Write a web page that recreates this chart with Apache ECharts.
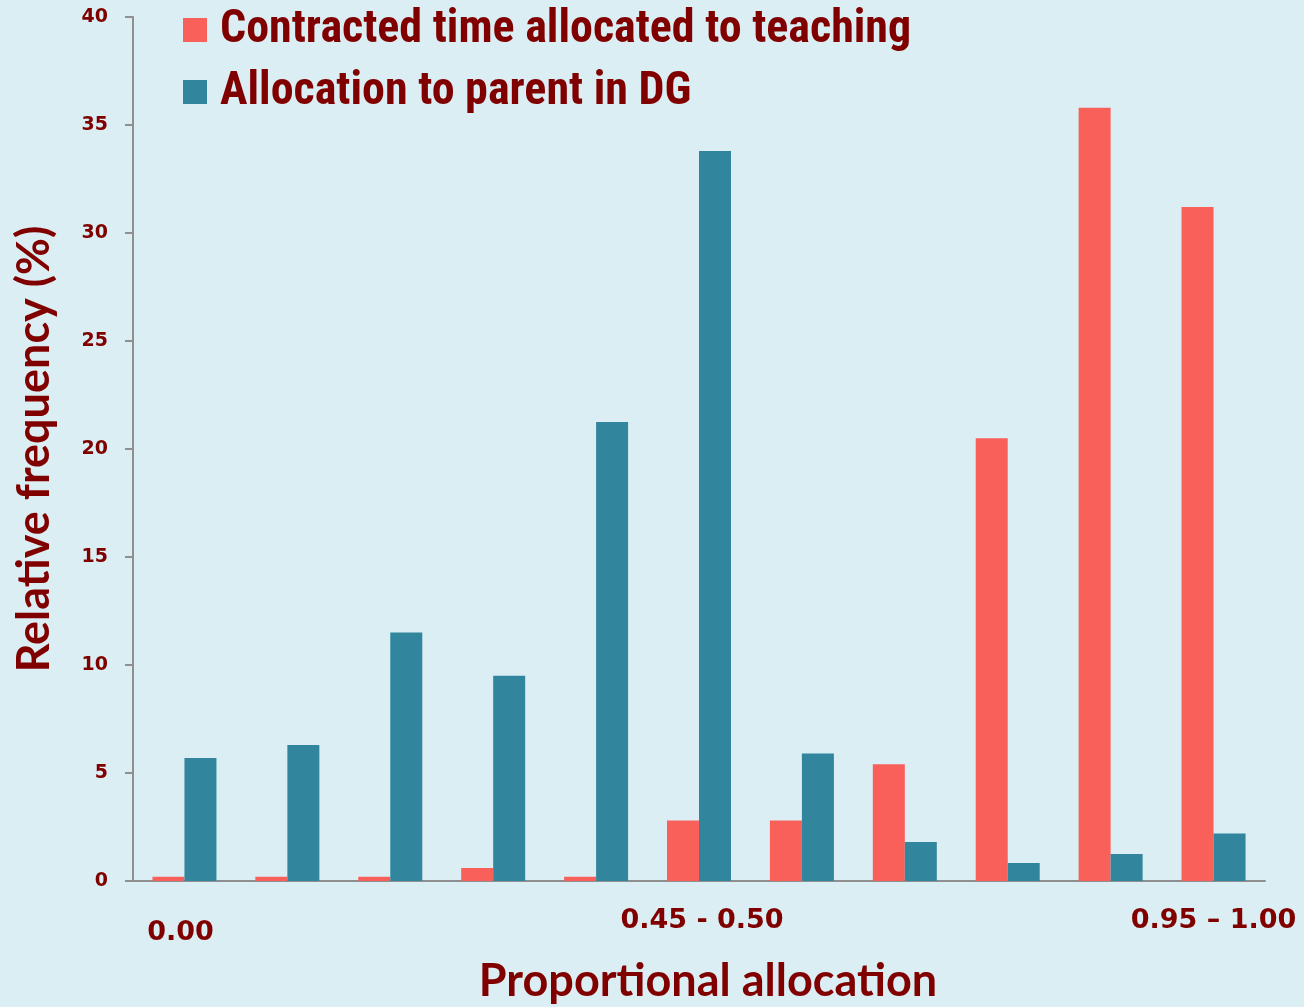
<!DOCTYPE html>
<html>
<head>
<meta charset="utf-8">
<script src="https://cdn.jsdelivr.net/npm/echarts@6/dist/echarts.min.js"></script>
<style>
  html, body { margin: 0; padding: 0; background: #dbeef4; }
  #chart { width: 1304px; height: 1007px; }
</style>
</head>
<body>
<div id="chart"></div>
<script>
// categories: 11 bins of proportional allocation, only 3 are labelled
const categories = ['0.00', '', '', '', '', '0.45 - 0.50', '', '', '', '', '0.95 \u2013 1.00']
const teaching = [0.2, 0.2, 0.2, 0.6, 0.2, 2.8, 2.8, 5.4, 20.5, 35.8, 31.2]
const parentDG = [5.7, 6.3, 11.5, 9.5, 21.25, 33.8, 5.9, 1.8, 0.83, 1.25, 2.2]
const yTicks = [0, 5, 10, 15, 20, 25, 30, 35, 40]

const darkRed = '#800000'
const axisGrey = '#8f8f8f'
const nameFont = 'Lato, "Open Sans", sans-serif'
const tickFont = '"DejaVu Sans", sans-serif'

// small nudges so the three labels sit where the original put them
const labelPad = {
    0: [12, 8, 0, 0],
    5: [0, 0, 0, 6]
}

const chart = echarts.init(document.getElementById('chart'))

const option = {
    backgroundColor: '#dbeef4',
    animation: false,
    legend: {
        orient: 'vertical',
        left: 183,
        top: 7,
        padding: 0,
        itemWidth: 24,
        itemHeight: 24,
        itemGap: 16,
        icon: 'rect',
        textStyle: {
            color: darkRed,
            fontSize: 46,
            fontWeight: 'bold',
            fontFamily: '"Roboto Condensed", Roboto, sans-serif',
            lineHeight: 46,
            padding: [0, 0, 0, 8]
        },
        data: ['Contracted time allocated to teaching', 'Allocation to parent in DG']
    },
    grid: {
        left: 133,
        right: 39,
        top: 17,
        bottom: 126,
        outerBoundsMode: 'none'
    },
    xAxis: {
        type: 'category',
        data: categories.map((c, i) => labelPad[i]
            ? { value: c, textStyle: { padding: labelPad[i] } }
            : c),
        name: 'Proportional allocation',
        nameLocation: 'middle',
        nameGap: 78,
        nameTextStyle: {
            color: darkRed,
            fontSize: 45,
            fontWeight: 'bold',
            fontFamily: nameFont,
            padding: [0, 0, 0, 18]
        },
        axisLine: { lineStyle: { color: axisGrey, width: 2 } },
        axisTick: { show: false },
        axisLabel: {
            interval: 0,
            margin: 26,
            color: darkRed,
            fontSize: 27,
            fontWeight: 'bold',
            fontFamily: tickFont
        }
    },
    yAxis: {
        type: 'value',
        min: yTicks[0],
        max: yTicks[yTicks.length - 1],
        interval: 5,
        name: 'Relative frequency (%)',
        nameLocation: 'middle',
        nameGap: 76,
        nameTextStyle: {
            color: darkRed,
            fontSize: 45,
            fontWeight: 'bold',
            fontFamily: nameFont
        },
        splitLine: { show: false },
        axisLine: { show: true, lineStyle: { color: axisGrey, width: 2 } },
        axisTick: { show: true, length: 8, lineStyle: { color: axisGrey, width: 2 } },
        axisLabel: {
            margin: 25,
            color: darkRed,
            fontSize: 19,
            fontWeight: 'bold',
            fontFamily: tickFont
        }
    },
    series: [
        {
            name: 'Contracted time allocated to teaching',
            type: 'bar',
            data: teaching,
            barWidth: 32,
            barGap: '0%',
            itemStyle: { color: '#f9605a' }
        },
        {
            name: 'Allocation to parent in DG',
            type: 'bar',
            data: parentDG,
            barWidth: 32,
            barGap: '0%',
            itemStyle: { color: '#31869e' }
        }
    ]
}

chart.setOption(option)
</script>
</body>
</html>
